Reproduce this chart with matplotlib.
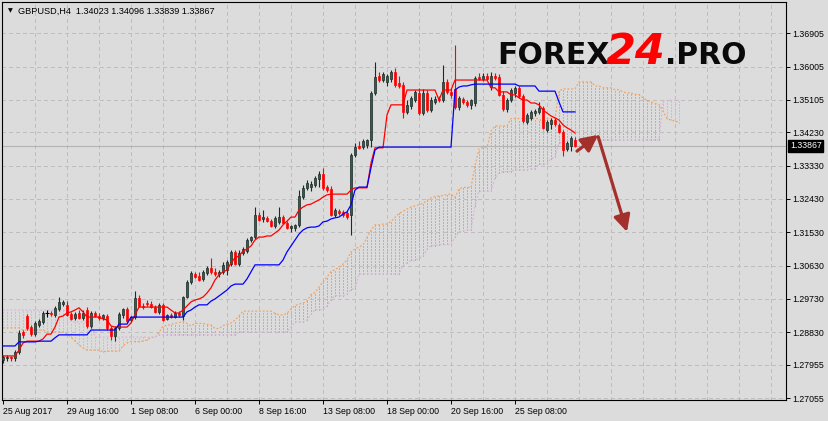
import matplotlib
matplotlib.use("Agg")
import matplotlib.pyplot as plt
import numpy as np
from matplotlib.transforms import blended_transform_factory

plt.rcParams['font.family'] = ['Liberation Sans', 'DejaVu Sans']

# GBPUSD H4 candles, 25 Aug 2017 00:00 onwards
open_ = [
    1.2808, 1.2814, 1.2816, 1.2814, 1.2830, 1.2884, 1.2927, 1.2897, 1.2878, 1.2903,
    1.2911, 1.2935, 1.2935, 1.2930, 1.2946, 1.2959, 1.2957, 1.2932, 1.2922, 1.2935,
    1.2922, 1.2943, 1.2900, 1.2935, 1.2927, 1.2922, 1.2927, 1.2895, 1.2873, 1.2895,
    1.2930, 1.2946, 1.2916, 1.2924, 1.2976, 1.2954, 1.2962, 1.2959, 1.2951, 1.2938,
    1.2957, 1.2919, 1.2930, 1.2924, 1.2935, 1.2927, 1.2978, 1.3019, 1.3040, 1.3035,
    1.3027, 1.3043, 1.3057, 1.3046, 1.3040, 1.3046, 1.3051, 1.3067, 1.3100, 1.3067,
    1.3097, 1.3102, 1.3132, 1.3140, 1.3200, 1.3189, 1.3192, 1.3183, 1.3170, 1.3181,
    1.3194, 1.3178, 1.3165, 1.3165, 1.3173, 1.3248, 1.3273, 1.3275, 1.3281, 1.3297,
    1.3310, 1.3275, 1.3270, 1.3200, 1.3210, 1.3208, 1.3205, 1.3200, 1.3362, 1.3386,
    1.3383, 1.3389, 1.3402, 1.3529, 1.3574, 1.3564, 1.3558, 1.3567, 1.3586, 1.3556,
    1.3551, 1.3478, 1.3494, 1.3510, 1.3529, 1.3475, 1.3529, 1.3483, 1.3505, 1.3513,
    1.3510, 1.3559, 1.3532, 1.3540, 1.3491, 1.3513, 1.3505, 1.3497, 1.3502, 1.3572,
    1.3567, 1.3575, 1.3545, 1.3575, 1.3572, 1.3524, 1.3486, 1.3510, 1.3530, 1.3543,
    1.3521, 1.3451, 1.3462, 1.3475, 1.3478, 1.3489, 1.3429, 1.3445, 1.3456, 1.3443,
    1.3424, 1.3378, 1.3386, 1.34023]
high = [
    1.2822, 1.2822, 1.2819, 1.2835, 1.2889, 1.2889, 1.2932, 1.2903, 1.2913, 1.2919,
    1.2940, 1.2943, 1.2940, 1.2954, 1.2978, 1.2970, 1.2967, 1.2938, 1.2938, 1.2943,
    1.2943, 1.2951, 1.2940, 1.2940, 1.2935, 1.2932, 1.2932, 1.2900, 1.2900, 1.2938,
    1.2949, 1.2951, 1.2927, 1.2994, 1.2984, 1.2962, 1.2970, 1.2967, 1.2957, 1.2962,
    1.2962, 1.2932, 1.2935, 1.2940, 1.2940, 1.2981, 1.3024, 1.3048, 1.3046, 1.3046,
    1.3051, 1.3062, 1.3084, 1.3057, 1.3051, 1.3073, 1.3078, 1.3105, 1.3105, 1.3105,
    1.3113, 1.3138, 1.3143, 1.3221, 1.3208, 1.3213, 1.3197, 1.3189, 1.3197, 1.3221,
    1.3200, 1.3183, 1.3173, 1.3175, 1.3267, 1.3281, 1.3294, 1.3291, 1.3305, 1.3318,
    1.3327, 1.3281, 1.3278, 1.3219, 1.3216, 1.3213, 1.3210, 1.3367, 1.3394, 1.3399,
    1.3405, 1.3405, 1.3534, 1.3613, 1.3586, 1.3586, 1.3580, 1.3591, 1.3597, 1.3575,
    1.3559, 1.3510, 1.3521, 1.3537, 1.3543, 1.3540, 1.3537, 1.3518, 1.3521, 1.3521,
    1.3605, 1.3567, 1.3543, 1.3659, 1.3521, 1.3518, 1.3510, 1.3513, 1.3575, 1.3583,
    1.3583, 1.3583, 1.3586, 1.3583, 1.3580, 1.3534, 1.3516, 1.3543, 1.3548, 1.3548,
    1.3526, 1.3475, 1.3483, 1.3486, 1.3505, 1.3494, 1.3456, 1.3462, 1.3462, 1.3448,
    1.3429, 1.3399, 1.3413, 1.34096]
low = [
    1.2800, 1.2805, 1.2805, 1.2805, 1.2824, 1.2868, 1.2889, 1.2873, 1.2873, 1.2897,
    1.2905, 1.2924, 1.2927, 1.2924, 1.2940, 1.2954, 1.2927, 1.2916, 1.2916, 1.2919,
    1.2916, 1.2895, 1.2895, 1.2924, 1.2916, 1.2916, 1.2889, 1.2862, 1.2859, 1.2889,
    1.2922, 1.2908, 1.2911, 1.2919, 1.2951, 1.2946, 1.2954, 1.2949, 1.2935, 1.2932,
    1.2913, 1.2916, 1.2922, 1.2922, 1.2924, 1.2916, 1.2975, 1.3013, 1.3030, 1.3021,
    1.3021, 1.3038, 1.3040, 1.3035, 1.3032, 1.3040, 1.3038, 1.3062, 1.3065, 1.3062,
    1.3092, 1.3097, 1.3127, 1.3135, 1.3183, 1.3181, 1.3181, 1.3167, 1.3165, 1.3175,
    1.3175, 1.3162, 1.3154, 1.3156, 1.3167, 1.3243, 1.3267, 1.3264, 1.3275, 1.3275,
    1.3267, 1.3262, 1.3197, 1.3194, 1.3200, 1.3194, 1.3189, 1.3146, 1.3356, 1.3378,
    1.3378, 1.3381, 1.3383, 1.3524, 1.3559, 1.3559, 1.3548, 1.3559, 1.3545, 1.3542,
    1.3462, 1.3472, 1.3486, 1.3505, 1.3470, 1.3470, 1.3478, 1.3478, 1.3499, 1.3505,
    1.3505, 1.3526, 1.3516, 1.3486, 1.3483, 1.3499, 1.3491, 1.3486, 1.3494, 1.3564,
    1.3561, 1.3564, 1.3537, 1.3564, 1.3521, 1.3480, 1.3478, 1.3505, 1.3518, 1.3516,
    1.3448, 1.3445, 1.3456, 1.3467, 1.3472, 1.3432, 1.3424, 1.3432, 1.3440, 1.3421,
    1.3359, 1.3372, 1.3372, 1.33839]
close = [
    1.2816, 1.2816, 1.2814, 1.2830, 1.2881, 1.2876, 1.2895, 1.2878, 1.2908, 1.2913,
    1.2935, 1.2935, 1.2932, 1.2949, 1.2965, 1.2965, 1.2930, 1.2919, 1.2932, 1.2922,
    1.2935, 1.2900, 1.2935, 1.2927, 1.2922, 1.2930, 1.2895, 1.2873, 1.2895, 1.2932,
    1.2946, 1.2913, 1.2924, 1.2976, 1.2954, 1.2951, 1.2959, 1.2951, 1.2938, 1.2957,
    1.2916, 1.2930, 1.2924, 1.2935, 1.2930, 1.2978, 1.3019, 1.3043, 1.3032, 1.3024,
    1.3046, 1.3057, 1.3046, 1.3040, 1.3046, 1.3065, 1.3073, 1.3100, 1.3067, 1.3097,
    1.3108, 1.3132, 1.3140, 1.3200, 1.3186, 1.3194, 1.3183, 1.3170, 1.3192, 1.3194,
    1.3178, 1.3165, 1.3170, 1.3173, 1.3251, 1.3273, 1.3286, 1.3283, 1.3300, 1.3310,
    1.3273, 1.3267, 1.3200, 1.3213, 1.3205, 1.3200, 1.3194, 1.3362, 1.3383, 1.3381,
    1.3399, 1.3402, 1.3529, 1.3572, 1.3564, 1.3580, 1.3575, 1.3586, 1.3551, 1.3548,
    1.3478, 1.3497, 1.3516, 1.3532, 1.3475, 1.3529, 1.3483, 1.3510, 1.3513, 1.3510,
    1.3559, 1.3532, 1.3524, 1.3491, 1.3516, 1.3505, 1.3497, 1.3510, 1.3570, 1.3567,
    1.3575, 1.3567, 1.3575, 1.3570, 1.3524, 1.3486, 1.3510, 1.3537, 1.3543, 1.3521,
    1.3453, 1.3470, 1.3478, 1.3480, 1.3489, 1.3435, 1.3451, 1.3456, 1.3445, 1.3424,
    1.3375, 1.3394, 1.3407, 1.33867]

# Ichimoku lines
tenkan = [
    1.2819, 1.2819, 1.2819, 1.2819, 1.2835, 1.2854, 1.2859, 1.2859, 1.2859, 1.2859,
    1.2865, 1.2878, 1.2878, 1.2897, 1.2924, 1.2927, 1.2935, 1.2938, 1.2943, 1.2949,
    1.2938, 1.2924, 1.2924, 1.2924, 1.2924, 1.2919, 1.2916, 1.2900, 1.2897, 1.2897,
    1.2897, 1.2897, 1.2908, 1.2930, 1.2951, 1.2951, 1.2951, 1.2951, 1.2951, 1.2951,
    1.2951, 1.2951, 1.2943, 1.2935, 1.2935, 1.2943, 1.2954, 1.2965, 1.2970, 1.2973,
    1.2978, 1.2989, 1.3003, 1.3024, 1.3038, 1.3046, 1.3051, 1.3070, 1.3084, 1.3089,
    1.3102, 1.3108, 1.3116, 1.3132, 1.3140, 1.3140, 1.3143, 1.3143, 1.3151, 1.3159,
    1.3173, 1.3183, 1.3194, 1.3194, 1.3213, 1.3221, 1.3227, 1.3229, 1.3235, 1.3240,
    1.3248, 1.3254, 1.3256, 1.3256, 1.3256, 1.3256, 1.3256, 1.3267, 1.3273, 1.3273,
    1.3273, 1.3273, 1.3340, 1.3381, 1.3381, 1.3381, 1.3470, 1.3497, 1.3497, 1.3497,
    1.3497, 1.3537, 1.3537, 1.3537, 1.3537, 1.3537, 1.3537, 1.3537, 1.3537, 1.3510,
    1.3537, 1.3537, 1.3537, 1.3564, 1.3564, 1.3564, 1.3564, 1.3564, 1.3564, 1.3564,
    1.3564, 1.3564, 1.3543, 1.3543, 1.3532, 1.3532, 1.3532, 1.3524, 1.3524, 1.3516,
    1.3510, 1.3510, 1.3502, 1.3502, 1.3497, 1.3483, 1.3475, 1.3467, 1.3462, 1.3456,
    1.3443, 1.3435, 1.3429, 1.3421]
kijun = [
    1.2846, 1.2846, 1.2846, 1.2846, 1.2857, 1.2857, 1.2857, 1.2857, 1.2857, 1.2859,
    1.2859, 1.2859, 1.2859, 1.2868, 1.2876, 1.2876, 1.2876, 1.2876, 1.2876, 1.2876,
    1.2876, 1.2876, 1.2889, 1.2889, 1.2889, 1.2889, 1.2889, 1.2889, 1.2889, 1.2905,
    1.2905, 1.2905, 1.2924, 1.2924, 1.2924, 1.2924, 1.2924, 1.2924, 1.2924, 1.2924,
    1.2924, 1.2924, 1.2924, 1.2924, 1.2924, 1.2924, 1.2938, 1.2943, 1.2951, 1.2957,
    1.2957, 1.2957, 1.2967, 1.2973, 1.2981, 1.2989, 1.2997, 1.3008, 1.3013, 1.3013,
    1.3013, 1.3027, 1.3046, 1.3065, 1.3065, 1.3065, 1.3065, 1.3065, 1.3065, 1.3065,
    1.3078, 1.3100, 1.3116, 1.3132, 1.3148, 1.3159, 1.3165, 1.3167, 1.3167, 1.3170,
    1.3181, 1.3183, 1.3189, 1.3192, 1.3194, 1.3202, 1.3208, 1.3227, 1.3267, 1.3275,
    1.3275, 1.3275, 1.3327, 1.3375, 1.3383, 1.3383, 1.3383, 1.3383, 1.3383, 1.3383,
    1.3383, 1.3383, 1.3383, 1.3383, 1.3383, 1.3383, 1.3383, 1.3383, 1.3383, 1.3383,
    1.3383, 1.3383, 1.3383, 1.3537, 1.3545, 1.3548, 1.3548, 1.3551, 1.3553, 1.3553,
    1.3553, 1.3553, 1.3553, 1.3553, 1.3553, 1.3553, 1.3553, 1.3553, 1.3553, 1.3548,
    1.3548, 1.3548, 1.3548, 1.3548, 1.3534, 1.3534, 1.3534, 1.3534, 1.3534, 1.3505,
    1.3478, 1.3478, 1.3478, 1.3478]
span_a = [
    1.2895, 1.2895, 1.2895, 1.2895, 1.2895, 1.2889, 1.2889, 1.2889, 1.2889, 1.2889,
    1.2889, 1.2884, 1.2884, 1.2884, 1.2884, 1.2884, 1.2878, 1.2870, 1.2859, 1.2849,
    1.2841, 1.2835, 1.2835, 1.2835, 1.2835, 1.2830, 1.2832, 1.2832, 1.2832, 1.2832,
    1.2846, 1.2855, 1.2858, 1.2858, 1.2858, 1.2859, 1.2862, 1.2869, 1.2869, 1.2882,
    1.2900, 1.2901, 1.2905, 1.2907, 1.2909, 1.2912, 1.2907, 1.2900, 1.2907, 1.2907,
    1.2907, 1.2904, 1.2903, 1.2893, 1.2893, 1.2901, 1.2904, 1.2908, 1.2916, 1.2927,
    1.2940, 1.2940, 1.2940, 1.2940, 1.2940, 1.2940, 1.2940, 1.2940, 1.2934, 1.2930,
    1.2930, 1.2934, 1.2946, 1.2955, 1.2959, 1.2962, 1.2967, 1.2985, 1.2990, 1.3005,
    1.3019, 1.3032, 1.3047, 1.3052, 1.3059, 1.3067, 1.3078, 1.3100, 1.3108, 1.3113,
    1.3119, 1.3139, 1.3159, 1.3173, 1.3173, 1.3175, 1.3175, 1.3182, 1.3193, 1.3204,
    1.3209, 1.3216, 1.3221, 1.3224, 1.3227, 1.3231, 1.3239, 1.3246, 1.3250, 1.3251,
    1.3252, 1.3255, 1.3256, 1.3247, 1.3270, 1.3274, 1.3274, 1.3274, 1.3333, 1.3378,
    1.3382, 1.3382, 1.3426, 1.3440, 1.3440, 1.3440, 1.3440, 1.3460, 1.3460, 1.3460,
    1.3460, 1.3460, 1.3460, 1.3460, 1.3460, 1.3447, 1.3460, 1.3460, 1.3460, 1.3534,
    1.3540, 1.3540, 1.3540, 1.3540, 1.3559, 1.3559, 1.3559, 1.3559, 1.3548, 1.3548,
    1.3543, 1.3543, 1.3543, 1.3538, 1.3538, 1.3532, 1.3529, 1.3529, 1.3525, 1.3525,
    1.3516, 1.3509, 1.3505, 1.3501, 1.3498, 1.3480, 1.3460, 1.3456, 1.3453, 1.3449]
span_b = [
    1.2943, 1.2943, 1.2943, 1.2943, 1.2943, 1.2943, 1.2943, 1.2943, 1.2943, 1.2943,
    1.2943, 1.2943, 1.2943, 1.2943, 1.2943, 1.2943, 1.2943, 1.2911, 1.2911, 1.2911,
    1.2911, 1.2911, 1.2911, 1.2870, 1.2870, 1.2870, 1.2870, 1.2870, 1.2870, 1.2870,
    1.2870, 1.2870, 1.2870, 1.2870, 1.2870, 1.2870, 1.2870, 1.2870, 1.2870, 1.2876,
    1.2876, 1.2876, 1.2876, 1.2876, 1.2876, 1.2876, 1.2876, 1.2876, 1.2876, 1.2876,
    1.2876, 1.2876, 1.2876, 1.2876, 1.2876, 1.2876, 1.2876, 1.2876, 1.2876, 1.2884,
    1.2884, 1.2884, 1.2884, 1.2884, 1.2884, 1.2884, 1.2884, 1.2884, 1.2884, 1.2884,
    1.2884, 1.2884, 1.2897, 1.2911, 1.2911, 1.2911, 1.2916, 1.2931, 1.2944, 1.2944,
    1.2944, 1.2954, 1.2971, 1.2982, 1.2982, 1.2982, 1.2986, 1.2998, 1.3001, 1.3040,
    1.3040, 1.3040, 1.3040, 1.3040, 1.3040, 1.3040, 1.3040, 1.3040, 1.3040, 1.3040,
    1.3063, 1.3070, 1.3077, 1.3077, 1.3082, 1.3089, 1.3108, 1.3117, 1.3117, 1.3119,
    1.3120, 1.3120, 1.3120, 1.3140, 1.3154, 1.3156, 1.3159, 1.3159, 1.3225, 1.3264,
    1.3264, 1.3264, 1.3264, 1.3300, 1.3313, 1.3317, 1.3317, 1.3317, 1.3322, 1.3322,
    1.3322, 1.3322, 1.3325, 1.3325, 1.3337, 1.3337, 1.3337, 1.3352, 1.3355, 1.3393,
    1.3397, 1.3402, 1.3402, 1.3402, 1.3402, 1.3402, 1.3402, 1.3402, 1.3402, 1.3402,
    1.3402, 1.3402, 1.3402, 1.3402, 1.3402, 1.3402, 1.3402, 1.3402, 1.3402, 1.3402,
    1.3402, 1.3402, 1.3402, 1.3402, 1.3402, 1.3507, 1.3509, 1.3509, 1.3509, 1.3509]

date_bars = [0, 16, 32, 48, 64, 80, 96, 112, 128]
date_labels = ["25 Aug 2017", "29 Aug 16:00", "1 Sep 08:00", "6 Sep 00:00", "8 Sep 16:00",
               "13 Sep 08:00", "18 Sep 00:00", "20 Sep 16:00", "25 Sep 08:00"]
price_ticks = [1.36905, 1.36005, 1.35105, 1.34230, 1.33330, 1.32430,
               1.31530, 1.30630, 1.29730, 1.28830, 1.27955, 1.27055]

# hand-drawn forecast arrows: (tail, head) in (bar, price)
arrows = [((143.5, 1.3372), (148.8, 1.3416)),
          ((148.8, 1.3411), (156.0, 1.3154))]

BG = "#dcdcdc"
GRID = "#bebebe"
BULL = "#2f5d4e"
BEAR = "#ff0000"
SANDY = "#f4a460"
THISTLE = "#d8b6d8"

fig = plt.figure(figsize=(8.29, 4.21), dpi=100, facecolor=BG)
ax = fig.add_axes([2 / 829, 21 / 421, 784 / 829, 398 / 421], facecolor=BG)
ax.set_xlim(-0.25, 195.75)
ax.set_ylim(1.27001, 1.37747)

# grid
for gx in np.arange(8, 196, 8):
    ax.axvline(gx, color=GRID, lw=0.72, ls=(0, (3, 3)), zorder=0, antialiased=False)
for gy in price_ticks:
    ax.axhline(gy, color=GRID, lw=0.72, ls=(0, (3, 3)), zorder=0, antialiased=False)

# cloud: dotted histogram between the two spans
a = np.array(span_a)
b = np.array(span_b)
cx = np.arange(len(a))
up = a >= b
dots = (0, (1.5, 1.5))
ax.vlines(cx[up], b[up], a[up], colors=SANDY, lw=0.72, linestyles=dots,
          zorder=1, antialiased=False)
ax.vlines(cx[~up], a[~up], b[~up], colors=THISTLE, lw=0.72, linestyles=dots,
          zorder=1, antialiased=False)
ax.plot(cx, a, color=SANDY, lw=0.9, ls=dots, zorder=1.2)
ax.plot(cx, b, color=THISTLE, lw=0.9, ls=dots, zorder=1.2)

# bid line
ax.axhline(close[-1], color="#b4b4b4", lw=0.8, zorder=1.5)

# candles
o = np.array(open_)
h = np.array(high)
l = np.array(low)
c = np.array(close)
x = np.arange(len(c))
bull = c > o
bear = c < o
doji = c == o
ax.vlines(x[bull], l[bull], h[bull], color="#1c2b26", lw=0.8, zorder=3)
ax.vlines(x[bear], l[bear], h[bear], color=BEAR, lw=0.8, zorder=3)
ax.vlines(x[doji], l[doji], h[doji], color="black", lw=0.8, zorder=3)
ax.bar(x[bull], c[bull] - o[bull], bottom=o[bull], width=0.62,
       color=BULL, edgecolor="#1c2b26", lw=0.5, zorder=4)
ax.bar(x[bear], o[bear] - c[bear], bottom=c[bear], width=0.62,
       color=BEAR, edgecolor=BEAR, lw=0.5, zorder=4)
ax.hlines(o[doji], x[doji] - 0.4, x[doji] + 0.4, color="black", lw=0.8, zorder=4)

# tenkan / kijun
ax.plot(np.arange(len(tenkan)), tenkan, color="#ff0000", lw=0.9, zorder=5)
ax.plot(np.arange(len(kijun)), kijun, color="#0000ff", lw=0.9, zorder=5)

# arrows
for tail, head in arrows:
    ax.annotate("", xy=head, xytext=tail,
                arrowprops=dict(arrowstyle="-|>,head_length=1.0,head_width=0.5",
                                color="#a3302a", lw=2.3, shrinkA=0, shrinkB=0),
                zorder=6)

# axes styling
for s in ax.spines.values():
    s.set_color("black")
    s.set_linewidth(0.8)
ax.yaxis.tick_right()
ax.set_yticks(price_ticks, [f"{p:.5f}" for p in price_ticks])
ax.set_xticks(date_bars, date_labels)
ax.tick_params(axis="y", direction="out", length=3, width=0.7, pad=1.5,
               labelsize=6.3, colors="black")
ax.tick_params(axis="x", direction="out", length=3, width=0.7, pad=2,
               labelsize=6.3, colors="black")
for lbl in ax.get_xticklabels():
    lbl.set_horizontalalignment("left")

# current price tag
trans = blended_transform_factory(ax.transAxes, ax.transData)
ax.text(1.005, close[-1], f"{close[-1]:.5f}", transform=trans, color="white",
        fontsize=6.3, va="center", ha="left", zorder=10, clip_on=False,
        bbox=dict(facecolor="black", edgecolor="black", pad=1.2))

# header
fig.text(8 / 829, 1 - 11 / 421, "\u25bc", fontsize=4.5, va="center",
         family="DejaVu Sans", color="black")
fig.text(18 / 829, 1 - 11 / 421,
         f"GBPUSD,H4  {open_[-1]:.5f} {high[-1]:.5f} {low[-1]:.5f} {close[-1]:.5f}",
         fontsize=6.6, va="center", color="black")

# watermark
fig.text(497 / 829, 1 - 64 / 421, "FOREX", fontsize=21.5, fontweight="heavy",
         family="DejaVu Sans", color="#0a0a0a", va="baseline")
fig.text(606 / 829, 1 - 64 / 421, "24", fontsize=31, fontweight="bold", style="italic",
         family="DejaVu Sans", color="#ff0000", va="baseline")
fig.text(665 / 829, 1 - 64 / 421, ".PRO", fontsize=21.5, fontweight="heavy",
         family="DejaVu Sans", color="#0a0a0a", va="baseline")

fig.savefig("out.png", dpi=100, facecolor=BG)
